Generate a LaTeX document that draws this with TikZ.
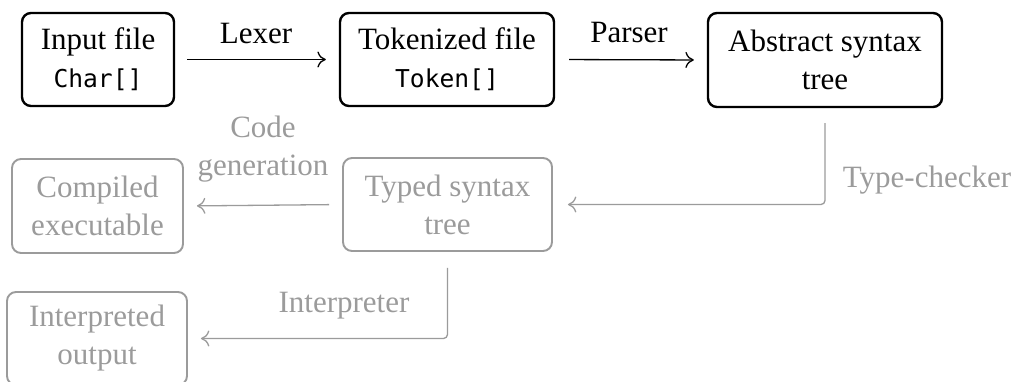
\documentclass[tikz,border=0pt]{standalone}
\usepackage{fontspec}
\setmainfont{Liberation Serif}
\setmonofont{DejaVu Sans Mono}
\usetikzlibrary{arrows.meta}
\definecolor{faded}{RGB}{155,155,155}
\tikzset{
  stage/.style={draw, rounded corners=4.5pt, line width=1.2pt, align=center,
    inner sep=0pt, font=\fontsize{15.5}{19}\selectfont},
  later/.style={stage, draw=faded, text=faded, line width=0.95pt},
  flow/.style={-{To[length=4.2pt, width=8pt]}, line width=0.65pt},
  lateflow/.style={flow, draw=faded},
  lbl/.style={font=\fontsize{15.5}{19}\selectfont, align=center, inner sep=0pt},
  latelbl/.style={lbl, text=faded},
}
\newcommand{\code}[1]{{\ttfamily\fontsize{12.3}{14}\selectfont #1}}
\begin{document}
\begin{tikzpicture}[x=0.5pt, y=-0.5pt]
  \useasboundingbox (0,0) rectangle (1028,381);
  \clip (0,0) rectangle (1028,381);

  % front end
  \node[stage, minimum width=76pt, minimum height=46.5pt] (inp) at (98,59.5)
    {Input file\\\code{Char[]}};
  \node[stage, minimum width=107pt, minimum height=46.5pt] (tok) at (447,59.5)
    {Tokenized file\\\code{Token[]}};
  \node[stage, minimum width=117pt, minimum height=47pt] (ast) at (825,60)
    {Abstract syntax\\tree};

  % later stages
  \node[later, minimum width=104.5pt, minimum height=46.5pt] (typ) at (447.5,204.5)
    {Typed syntax\\tree};
  \node[later, minimum width=85.5pt, minimum height=47pt] (cmp) at (97.5,206)
    {Compiled\\executable};
  \node[later, minimum width=90pt, minimum height=46.5pt] (itp) at (97,338.5)
    {Interpreted\\output};

  % connectors
  \draw[flow, shorten <=6pt, shorten >=6.5pt] (inp.east) -- (tok.west);
  \draw[flow, shorten <=7pt, shorten >=6.5pt] (tok.east) -- (ast.west);
  \draw[lateflow, rounded corners=2pt, shorten <=7.5pt, shorten >=7.5pt]
    (ast.south) |- (typ.east);
  \draw[lateflow, shorten <=6.5pt, shorten >=6.5pt] (typ.west) -- (cmp.east);
  \draw[lateflow, rounded corners=2pt, shorten <=8pt, shorten >=6.5pt]
    (typ.south) |- (itp.east);

  % labels
  \node[lbl] (lex) at (256,33) {Lexer};
  \node[lbl] (par) at (629,32) {Parser};
  \node[latelbl] (chk) at (927,180) {Type-checker};
  \node[latelbl] (gen) at (263,149) {Code\\generation};
  \node[latelbl] (run) at (344,306) {Interpreter};
\end{tikzpicture}
\end{document}
